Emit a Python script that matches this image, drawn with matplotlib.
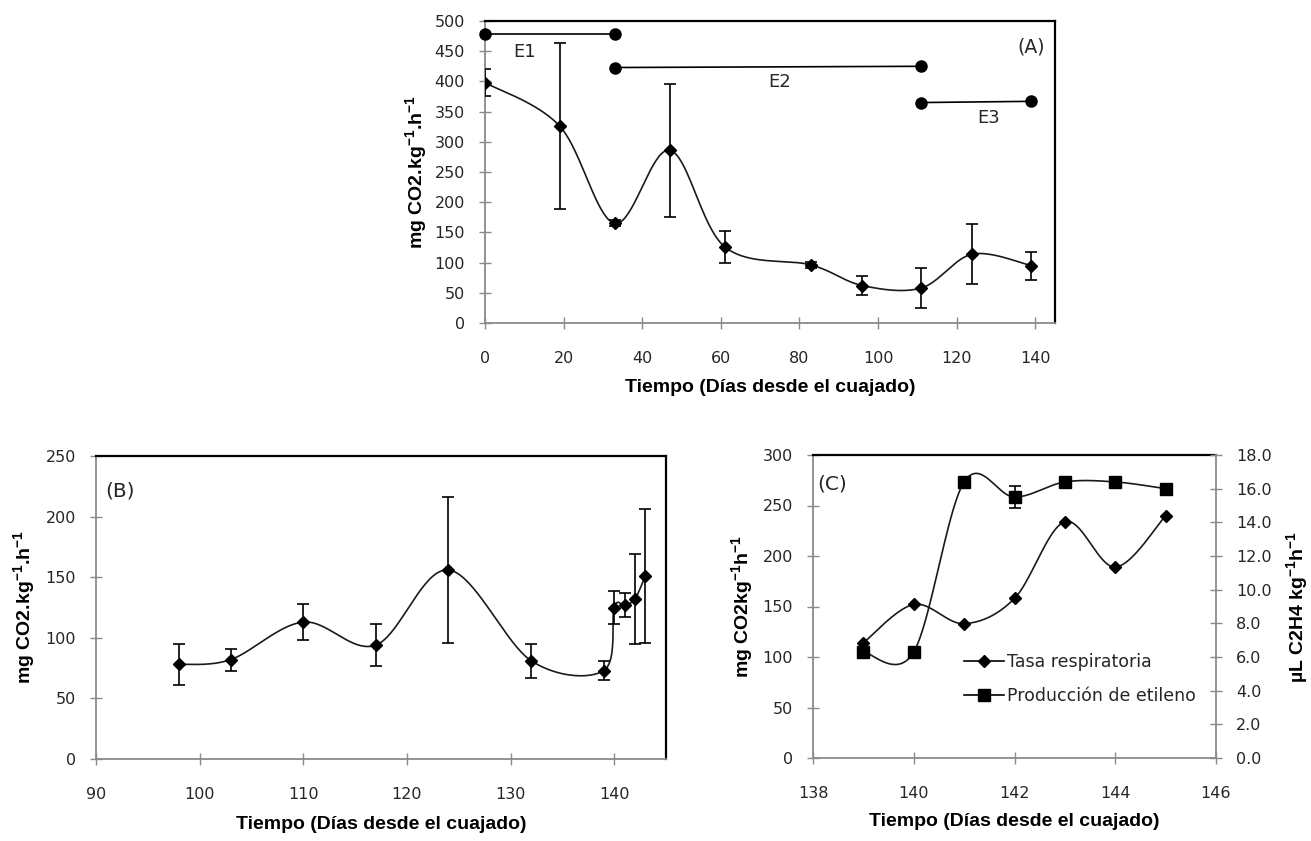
import matplotlib
matplotlib.use('Agg')
import matplotlib.pyplot as plt
from matplotlib.lines import Line2D
import numpy as np

plt.rcParams['mathtext.default'] = 'regular'
plt.rcParams['font.family'] = ['DejaVu Sans']

# ---------------- data ----------------
# Panel A
a_days = [0, 19, 33, 47, 61, 83, 96, 111, 124, 139]
a_resp = [398, 326, 165, 286, 126, 96, 62, 58, 114, 95]
a_err = [22, 137, 5, 110, 27, 5, 15, 33, 50, 23]
a_xticks = [0, 20, 40, 60, 80, 100, 120, 140]
a_yticks = [0, 50, 100, 150, 200, 250, 300, 350, 400, 450, 500]

stage_names = ['E1', 'E2', 'E3']
stage_start = [0, 33, 111]
stage_end = [33, 111, 139]
stage_y_start = [478, 423, 365]
stage_y_end = [478, 425, 367]
stage_label_x = [10, 75, 128]
stage_label_y = [449, 399, 339]

# Panel B
b_days = [98, 103, 110, 117, 124, 132, 139, 140, 141, 142, 143]
b_resp = [78, 82, 113, 94, 156, 81, 73, 125, 127, 132, 151]
b_err = [17, 9, 15, 17, 60, 14, 8, 14, 10, 37, 55]
b_xticks = [90, 100, 110, 120, 130, 140]
b_yticks = [0, 50, 100, 150, 200, 250]

# Panel C
c_days = [139, 140, 141, 142, 143, 144, 145]
c_resp = [114, 152, 133, 158, 234, 189, 240]
c_eth = [6.3, 6.3, 16.4, 15.5, 16.4, 16.4, 16.0]
c_eth_err = [0, 0, 0, 0.65, 0, 0, 0]
c_xticks = [138, 140, 142, 144, 146]
c_yticks = [0, 50, 100, 150, 200, 250, 300]
c_y2ticks = [0, 2, 4, 6, 8, 10, 12, 14, 16, 18]

xlabel_txt = 'Tiempo (Días desde el cuajado)'
legend_labels = ['Tasa respiratoria', 'Producción de etileno']

# ---------------- styles ----------------
GRAY = '#8a8a8a'
TXT = '#262626'
TICK_FS = 11.5
LAB_FONT = dict(family=['Liberation Sans', 'DejaVu Sans'], weight='bold', size=14)


def excel_smooth(x, y, n=40):
    pts = np.column_stack([np.asarray(x, float), np.asarray(y, float)])
    out = []
    for i in range(len(pts) - 1):
        p0 = pts[i - 1] if i > 0 else pts[i]
        p1 = pts[i]
        p2 = pts[i + 1]
        p3 = pts[i + 2] if i + 2 < len(pts) else pts[i + 1]
        c1 = p1 + (p2 - p0) / 6.0
        c2 = p2 - (p3 - p1) / 6.0
        t = np.linspace(0, 1, n)[:, None]
        seg = (1 - t) ** 3 * p1 + 3 * (1 - t) ** 2 * t * c1 + 3 * (1 - t) * t ** 2 * c2 + t ** 3 * p2
        out.append(seg if i == 0 else seg[1:])
    s = np.vstack(out)
    return s[:, 0], s[:, 1]


def style_axes(ax, right_gray=False):
    for side in ['left', 'bottom']:
        ax.spines[side].set_color(GRAY)
        ax.spines[side].set_linewidth(1.3)
    ax.spines['top'].set_color('black')
    ax.spines['top'].set_linewidth(1.6)
    if right_gray:
        ax.spines['right'].set_visible(False)
    else:
        ax.spines['right'].set_color('black')
        ax.spines['right'].set_linewidth(1.6)
    ax.tick_params(direction='inout', length=9, width=1.0, color=GRAY,
                   labelsize=TICK_FS, labelcolor=TXT)
    ax.tick_params(axis='y', pad=10)
    ax.tick_params(axis='x', pad=16)


fig = plt.figure(figsize=(13.11, 8.41), dpi=100)
W, H = 1311.0, 841.0


def add_ax(l, t, r, b):
    return fig.add_axes([l / W, 1 - b / H, (r - l) / W, (b - t) / H])


# ---------------- Panel A ----------------
axA = add_ax(485, 21, 1055, 323)
sx, sy = excel_smooth(a_days, a_resp)
axA.plot(sx, sy, color='#1a1a1a', lw=1.2, zorder=3)
axA.errorbar(a_days, a_resp, yerr=a_err, fmt='D', color='black', ms=6,
             ecolor='black', elinewidth=1.2, capsize=4, capthick=1.2, zorder=4)
for i in range(len(stage_names)):
    axA.plot([stage_start[i], stage_end[i]], [stage_y_start[i], stage_y_end[i]],
             color='black', lw=1.2, marker='o', ms=8, clip_on=False, zorder=5)
    axA.text(stage_label_x[i], stage_label_y[i], stage_names[i], fontsize=13,
             ha='center', va='center', color=TXT)
axA.text(0.983, 0.915, '(A)', transform=axA.transAxes, ha='right', va='center',
         fontsize=13.5, color=TXT)
axA.set_xlim(0, 145)
axA.set_ylim(0, 500)
axA.set_xticks(a_xticks)
axA.set_yticks(a_yticks)
style_axes(axA)
axA.set_ylabel(r'mg CO2.kg$^{-1}$.h$^{-1}$', fontdict=LAB_FONT)
axA.yaxis.set_label_coords(-0.121, 0.5)
axA.yaxis.label.set_va('center')
axA.set_xlabel(xlabel_txt, fontdict=LAB_FONT)
axA.xaxis.set_label_coords(0.5, -0.215)
axA.xaxis.label.set_va('center')

# ---------------- Panel B ----------------
axB = add_ax(96, 456, 666, 759)
sx, sy = excel_smooth(b_days, b_resp)
axB.plot(sx, sy, color='#1a1a1a', lw=1.2, zorder=3)
axB.errorbar(b_days, b_resp, yerr=b_err, fmt='D', color='black', ms=6.5,
             ecolor='black', elinewidth=1.2, capsize=4, capthick=1.2, zorder=4)
axB.text(0.016, 0.885, '(B)', transform=axB.transAxes, ha='left', va='center',
         fontsize=14.5, color=TXT)
axB.set_xlim(90, 145)
axB.set_ylim(0, 250)
axB.set_xticks(b_xticks)
axB.set_yticks(b_yticks)
style_axes(axB)
axB.set_ylabel(r'mg CO2.kg$^{-1}$.h$^{-1}$', fontdict=LAB_FONT)
axB.yaxis.set_label_coords(-0.126, 0.5)
axB.yaxis.label.set_va('center')
axB.set_xlabel(xlabel_txt, fontdict=LAB_FONT)
axB.xaxis.set_label_coords(0.5, -0.215)
axB.xaxis.label.set_va('center')

# ---------------- Panel C ----------------
axC = add_ax(813, 455, 1216, 758)
axC2 = axC.twinx()
sx, sy = excel_smooth(c_days, c_resp)
axC.plot(sx, sy, color='#1a1a1a', lw=1.2, zorder=3)
axC.plot(c_days, c_resp, 'D', color='black', ms=6.5, zorder=4)
sx, sy = excel_smooth(c_days, c_eth)
axC2.plot(sx, sy, color='#1a1a1a', lw=1.2, zorder=3)
axC2.errorbar(c_days, c_eth, yerr=c_eth_err, fmt='s', color='black', ms=8.5,
              ecolor='black', elinewidth=1.2, capsize=4, capthick=1.2, zorder=4)
axC.text(0.01, 0.905, '(C)', transform=axC.transAxes, ha='left', va='center',
         fontsize=14.5, color=TXT)
axC.set_xlim(138, 146)
axC.set_ylim(0, 300)
axC.set_xticks(c_xticks)
axC.set_yticks(c_yticks)
axC2.set_ylim(0, 18)
axC2.set_yticks(c_y2ticks)
axC2.set_yticklabels(['%.1f' % v for v in c_y2ticks])
style_axes(axC, right_gray=True)
for side in ['left', 'bottom', 'top']:
    axC2.spines[side].set_visible(False)
axC2.spines['right'].set_color(GRAY)
axC2.spines['right'].set_linewidth(1.3)
axC2.tick_params(direction='inout', length=9, width=1.0, color=GRAY,
                 labelsize=TICK_FS, labelcolor=TXT, pad=10)
axC.set_ylabel(r'mg CO2kg$^{-1}$h$^{-1}$', fontdict=LAB_FONT)
axC.yaxis.set_label_coords(-0.176, 0.5)
axC.yaxis.label.set_va('center')
axC2.set_ylabel(r'µL C2H4 kg$^{-1}$h$^{-1}$', fontdict=LAB_FONT, rotation=90)
axC2.yaxis.set_label_coords(1.201, 0.5)
axC2.yaxis.label.set_va('center')
axC.set_xlabel(xlabel_txt, fontdict=LAB_FONT)
axC.xaxis.set_label_coords(0.5, -0.21)
axC.xaxis.label.set_va('center')

handles = [Line2D([], [], color='black', lw=1.2, marker='D', ms=6.5),
           Line2D([], [], color='black', lw=1.2, marker='s', ms=8.5)]
axC2.legend(handles, legend_labels, loc='upper left', bbox_to_anchor=(0.375, 0.345),
            frameon=False, fontsize=12.5, handlelength=2.3, handletextpad=0.15,
            labelspacing=0.9, borderpad=0, borderaxespad=0, numpoints=1,
            labelcolor=TXT)

fig.savefig('out.png', dpi=100)
